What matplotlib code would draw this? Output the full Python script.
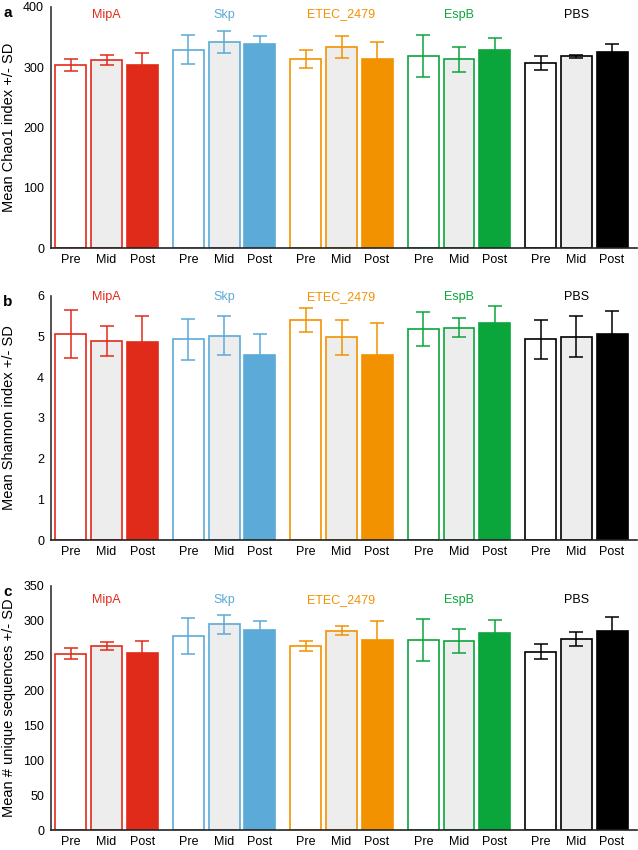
import matplotlib
matplotlib.use("Agg")
import matplotlib.pyplot as plt
import numpy as np

plt.rcParams['font.family'] = ['Liberation Sans', 'DejaVu Sans']

groups = ["MipA", "Skp", "ETEC_2479", "EspB", "PBS"]
times = ["Pre", "Mid", "Post"]
colori = ["#E02B1A", "#5BAAD8", "#F39200", "#0AA63C", "#000000"]

# valori: righe = gruppi, colonne = Pre/Mid/Post
chao1 = [[303, 312, 303],
         [329, 342, 339],
         [313, 333, 313],
         [318, 313, 328],
         [307, 318, 325]]
chao1_sd = [[10, 8, 20],
            [24, 18, 13],
            [15, 18, 29],
            [35, 21, 21],
            [11, 2.5, 13]]

shannon = [[5.07, 4.89, 4.87],
           [4.93, 5.02, 4.55],
           [5.41, 4.98, 4.54],
           [5.18, 5.22, 5.34],
           [4.93, 5.00, 5.07]]
shannon_sd = [[0.59, 0.36, 0.63],
              [0.50, 0.48, 0.51],
              [0.30, 0.44, 0.80],
              [0.42, 0.23, 0.41],
              [0.49, 0.50, 0.55]]

uniche = [[253, 264, 254],
          [278, 295, 287],
          [264, 286, 272],
          [272, 271, 282],
          [256, 274, 286]]
uniche_sd = [[8.4, 5.3, 17],
             [26, 14, 13],
             [7.2, 7, 28],
             [30, 17, 19.6],
             [10.3, 9.5, 19]]

pannelli = [
    ("a", chao1, chao1_sd, "Mean Chao1 index +/- SD", 400, [0, 100, 200, 300, 400], 0.956, (0.7082, 0.9918)),
    ("b", shannon, shannon_sd, "Mean Shannon index +/- SD", 6, [0, 1, 2, 3, 4, 5, 6], 0.982, (0.3647, 0.6518)),
    ("c", uniche, uniche_sd, "Mean # unique sequences +/- SD", 350, [0, 50, 100, 150, 200, 250, 300, 350], 0.932, (0.0235, 0.3106)),
]

fig = plt.figure(figsize=(6.38, 8.5), dpi=100)
passo = 3.3
larghezza = 0.87
sx, dx = 51 / 638, 637 / 638

for lettera, vals, sds, etichetta, ymax, ticks, ytit, (b, t) in pannelli:
    ax = fig.add_axes([sx, b, dx - sx, t - b])
    pos_tick = []
    lab_tick = []
    for g, nome in enumerate(groups):
        c = colori[g]
        for i, tempo in enumerate(times):
            x = g * passo + i
            if tempo == "Pre":
                fc = "white"
            elif tempo == "Mid":
                fc = "#EDEDED"
            else:
                fc = c
            ax.bar(x, vals[g][i], width=larghezza, color=fc, edgecolor=c,
                   linewidth=1.2, zorder=2)
            ax.errorbar(x, vals[g][i], yerr=sds[g][i], fmt="none", ecolor=c,
                        elinewidth=1.1, capsize=5, capthick=1.1, zorder=3)
            pos_tick.append(x)
            lab_tick.append(tempo)
        ax.text(g * passo + 1, ytit * ymax, nome, color=c, ha="center",
                va="baseline", fontsize=9)
    ax.set_xlim(-0.56, 4 * passo + 2 + 0.7)
    ax.set_ylim(0, ymax)
    ax.set_yticks(ticks)
    ax.set_xticks(pos_tick)
    ax.set_xticklabels(lab_tick)
    ax.tick_params(axis="both", length=0, labelsize=9)
    ax.tick_params(axis="y", pad=5)
    ax.tick_params(axis="x", pad=4)
    for s in ["top", "right"]:
        ax.spines[s].set_visible(False)
    ax.spines["left"].set_color("#333333")
    ax.spines["left"].set_linewidth(1.2)
    ax.spines["bottom"].set_color("#222222")
    ax.spines["bottom"].set_linewidth(1.2)
    ax.set_ylabel(etichetta, fontsize=10.5, va="center")
    ax.yaxis.set_label_coords(-0.0717, 0.5)
    fig.text(3 / 638, t - 6 / 850, lettera, fontsize=11, fontweight="bold",
             ha="left", va="center")

fig.savefig("out.png", dpi=100)
